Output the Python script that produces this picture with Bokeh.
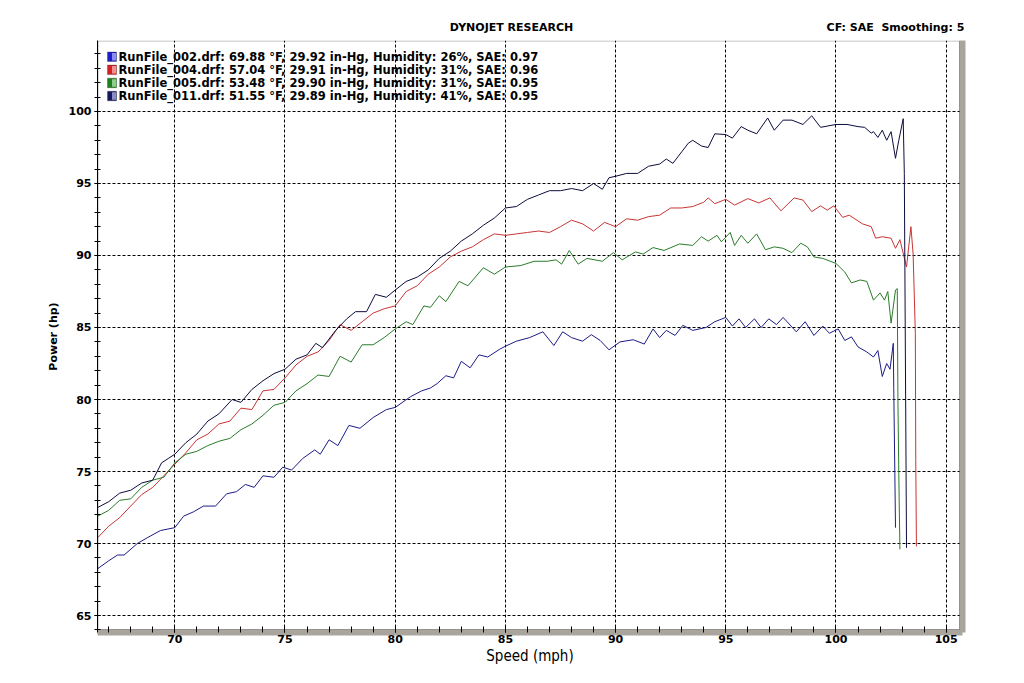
from bokeh.plotting import figure
from bokeh.models import Range1d, Label, BoxAnnotation, SingleIntervalTicker, FixedTicker, LinearAxis
from bokeh.embed import file_html
from bokeh.resources import INLINE

# ---------------- data ----------------
speed_002 = [66.5, 67.0, 67.4, 67.7, 68.3, 68.75, 69.35, 70.0, 70.4, 70.85, 71.3, 71.85, 72.35, 72.8,
             73.2, 73.6, 74.0, 74.5, 74.9, 75.3, 75.8, 76.35, 76.6, 77.0, 77.4, 77.9, 78.4, 79.0, 79.6,
             80.0, 80.7, 81.2, 81.6, 81.9, 82.3, 82.65, 83.0, 83.4, 83.8, 84.2, 84.75, 85.0, 85.5, 86.1,
             86.7, 87.2, 87.6, 88.0, 88.5, 88.9, 89.3, 89.7, 90.2, 90.8, 91.3, 91.7, 92.0, 92.3, 92.7,
             93.05, 93.5, 94.1, 94.5, 95.0, 95.3, 95.6, 95.9, 96.3, 96.6, 96.95, 97.3, 97.6, 98.2, 98.6,
             99.0, 99.4, 99.7, 100.1, 100.4, 100.7, 101.0, 101.4, 101.7, 101.9, 102.1, 102.3, 102.45,
             102.6, 102.62, 102.67, 102.7]
power_002 = [68.25, 68.8, 69.2, 69.2, 70.0, 70.4, 70.9, 71.1, 71.9, 72.2, 72.6, 72.6, 73.45, 73.6,
             74.1, 73.9, 74.7, 74.6, 75.3, 75.1, 75.9, 76.5, 76.2, 77.2, 76.8, 78.2, 78.0, 78.75, 79.3,
             79.45, 80.2, 80.6, 80.8, 81.1, 81.65, 81.5, 82.65, 82.2, 83.1, 82.95, 83.5, 83.7, 84.05, 84.3,
             84.7, 83.75, 84.7, 84.3, 84.05, 84.5, 84.1, 83.45, 84.0, 84.15, 83.85, 84.9, 84.3, 84.8, 84.45,
             85.15, 84.8, 85.0, 85.4, 85.7, 85.1, 85.6, 85.0, 85.6, 85.0, 85.6, 85.2, 85.7, 84.7, 85.4,
             84.45, 85.1, 84.6, 84.9, 84.1, 84.35, 83.65, 83.3, 82.95, 83.4, 81.6, 82.5, 82.1,
             83.9, 80.85, 74.9, 71.1]

speed_004 = [66.5, 67.0, 67.5, 68.0, 68.5, 69.0, 69.5, 70.0, 70.5, 71.0, 71.5, 72.0, 72.5, 73.0, 73.5,
             74.0, 74.5, 75.0, 75.5, 76.0, 76.5, 77.0, 77.5, 78.0, 78.5, 79.0, 79.5, 80.0, 80.5, 81.0,
             81.5, 82.0, 82.5, 83.0, 83.5, 84.0, 84.5, 85.0, 85.5, 86.0, 86.5, 87.0, 87.5, 88.0, 88.5,
             89.0, 89.5, 90.0, 90.5, 91.0, 91.5, 92.0, 92.5, 93.0, 93.5, 94.0, 94.2, 94.5, 95.0, 95.4,
             96.0, 96.5, 97.0, 97.5, 98.1, 98.5, 98.9, 99.3, 99.6, 99.9, 100.3, 100.6, 101.2, 101.6,
             101.8, 102.1, 102.5, 102.7, 102.9, 103.2, 103.4, 103.5, 103.6, 103.62, 103.65]
power_004 = [70.4, 71.2, 71.8, 72.6, 73.4, 73.9, 74.7, 75.5, 76.3, 77.2, 77.6, 78.3, 78.5, 79.4, 79.3,
             80.6, 80.7, 81.5, 82.4, 83.0, 83.3, 84.1, 85.2, 84.8, 85.4, 86.0, 86.3, 86.5, 87.5, 87.9,
             88.7, 89.2, 89.9, 90.3, 90.6, 91.1, 91.5, 91.4, 91.5, 91.6, 91.7, 91.6, 92.0, 92.45, 92.2,
             91.7, 92.3, 92.0, 92.55, 92.45, 92.7, 92.8, 93.3, 93.3, 93.4, 93.7, 94.0, 93.6, 93.9, 93.5,
             93.95, 93.65, 94.0, 93.1, 94.0, 93.85, 93.05, 93.45, 93.15, 93.45, 92.65, 92.8, 92.2, 92.0,
             91.2, 91.3, 91.2, 90.5, 91.1, 89.2, 92.0, 90.1, 84.6, 75.75, 69.8]

speed_005 = [66.5, 67.0, 67.5, 68.0, 68.5, 69.0, 69.5, 70.0, 70.5, 71.0, 71.5, 72.0, 72.5, 73.0, 73.5,
             74.0, 74.5, 75.0, 75.5, 76.0, 76.5, 77.0, 77.5, 78.0, 78.5, 79.0, 79.5, 80.0, 80.5, 80.8,
             81.3, 81.6, 82.0, 82.3, 82.9, 83.3, 84.0, 84.5, 85.0, 85.7, 86.3, 86.9, 87.3, 87.55, 87.9,
             88.3, 88.7, 89.4, 89.9, 90.3, 90.9, 91.25, 91.7, 92.2, 92.9, 93.5, 93.9, 94.2, 94.6, 94.8,
             95.2, 95.4, 95.7, 96.0, 96.4, 96.8, 97.2, 97.6, 98.0, 98.4, 98.7, 99.0, 99.4, 100.0, 100.4,
             100.7, 101.1, 101.4, 101.7, 102.0, 102.2, 102.35, 102.5, 102.7, 102.78, 102.81, 102.85, 102.9]
power_005 = [71.9, 72.3, 73.0, 73.1, 73.9, 74.4, 74.6, 75.6, 76.2, 76.4, 76.8, 77.1, 77.3, 77.9, 78.3,
             78.9, 79.6, 79.8, 80.6, 81.1, 81.7, 81.6, 83.0, 82.6, 83.8, 83.8, 84.3, 84.9, 85.4, 85.2,
             86.5, 86.4, 87.2, 86.8, 88.2, 87.9, 89.15, 88.7, 89.2, 89.3, 89.6, 89.6, 89.7, 89.4, 90.35,
             89.4, 89.8, 89.6, 90.2, 89.7, 90.25, 90.1, 90.55, 90.35, 90.8, 90.7, 91.3, 91.0, 91.4, 90.95,
             91.6, 90.7, 91.4, 90.85, 91.5, 90.4, 90.6, 90.5, 90.2, 90.85, 90.6, 89.9, 89.8, 89.45, 88.85,
             88.1, 88.3, 88.2, 86.9, 87.4, 86.9, 87.5, 85.3, 87.6, 87.7, 79.9, 74.8, 69.6]

speed_011 = [66.5, 67.0, 67.5, 68.0, 68.5, 69.0, 69.4, 69.7, 70.0, 70.5, 71.0, 71.5, 72.0, 72.6, 73.0,
             73.5, 74.0, 74.5, 75.0, 75.5, 76.0, 76.4, 76.7, 77.3, 77.8, 78.2, 78.7, 79.1, 79.6, 80.0,
             80.5, 81.0, 81.5, 82.0, 82.5, 83.0, 83.5, 84.0, 84.5, 85.0, 85.5, 86.0, 86.5, 87.0, 87.5,
             88.0, 88.5, 89.0, 89.4, 89.7, 90.0, 90.5, 91.0, 91.5, 92.0, 92.3, 92.6, 93.0, 93.3, 93.5,
             93.9, 94.2, 94.5, 95.0, 95.3, 95.7, 96.0, 96.4, 96.9, 97.2, 97.6, 98.0, 98.5, 98.9, 99.3,
             100.0, 100.5, 101.0, 101.3, 101.6, 101.7, 101.9, 102.1, 102.3, 102.5, 102.7, 102.85, 103.05,
             103.1, 103.2]
power_011 = [72.5, 72.9, 73.5, 73.7, 74.2, 74.4, 75.6, 75.9, 76.2, 77.0, 77.6, 78.5, 79.0, 80.0, 79.8,
             80.7, 81.3, 81.8, 82.1, 82.8, 83.1, 83.9, 83.6, 84.8, 85.6, 86.1, 86.1, 87.3, 87.1, 87.6,
             88.2, 88.5, 89.0, 89.8, 90.3, 91.0, 91.5, 92.1, 92.6, 93.3, 93.4, 93.9, 94.2, 94.5, 94.5,
             94.65, 94.5, 95.0, 94.6, 95.4, 95.5, 95.7, 95.7, 96.2, 96.35, 96.7, 96.4, 97.2, 97.8, 98.0,
             97.6, 97.5, 98.45, 98.4, 98.15, 98.95, 98.7, 98.45, 99.55, 98.7, 99.4, 99.4, 99.1, 99.7, 98.9,
             99.1, 99.1, 98.95, 98.9, 98.5, 98.6, 98.2, 98.7, 98.0, 98.6, 96.75, 98.0, 99.5,
             95.7, 69.7]

legend_labels = [
    "RunFile_002.drf: 69.88 \u00b0F, 29.92 in-Hg, Humidity: 26%, SAE: 0.97",
    "RunFile_004.drf: 57.04 \u00b0F, 29.91 in-Hg, Humidity: 31%, SAE: 0.96",
    "RunFile_005.drf: 53.48 \u00b0F, 29.90 in-Hg, Humidity: 31%, SAE: 0.95",
    "RunFile_011.drf: 51.55 \u00b0F, 29.89 in-Hg, Humidity: 41%, SAE: 0.95",
]
title_text = "DYNOJET RESEARCH"
info_text = "CF: SAE\u00a0\u00a0Smoothing: 5"
x_title = "Speed (mph)"
y_title = "Power (hp)"

line_colors = ["#1c1c86", "#c83434", "#2a7c2a", "#0c0c3e"]
box_dark = ["#1e1ec8", "#d42020", "#1f7f1f", "#18185e"]
box_light = ["#8c8cf4", "#f49090", "#8cd08c", "#8c8cc8"]
shadow = "#a9a59d"

# ---------------- layout ----------------
W, H = 1024, 683
FL, FR, FT, FB = 97, 962, 40, 632      # plot frame (includes the shadow band right/bottom)
BOX_R, BOX_B = 959, 629                # edges of the drawn chart box
X0, X1 = 66.493, 105.74
Y0, Y1 = 63.82, 104.93


def dx(px):
    return X0 + (px - FL) / (FR - FL) * (X1 - X0)


def dy(py):
    return Y1 - (py - FT) / (FB - FT) * (Y1 - Y0)


p = figure(width=W, height=H, output_backend="svg", toolbar_location=None,
           x_range=Range1d(X0, X1), y_range=Range1d(Y0, Y1),
           min_border_left=FL, min_border_right=W - FR,
           min_border_top=FT, min_border_bottom=H - FB)
p.background_fill_color = "white"
p.border_fill_color = "white"
p.outline_line_color = None
p.title.visible = False

p.xaxis.ticker = SingleIntervalTicker(interval=5, num_minor_ticks=5)
p.yaxis.ticker = SingleIntervalTicker(interval=5, num_minor_ticks=5)

for ax in (p.xaxis, p.yaxis):
    ax.major_tick_line_color = "black"
    ax.minor_tick_line_color = "black"
    ax.major_label_text_font = "DejaVu Sans"
    ax.major_label_text_font_style = "bold"
    ax.major_label_text_font_size = "11px"
    ax.major_label_text_color = "black"
    ax.axis_label_text_color = "black"

# left axis: black line on the box edge, ticks crossing it
p.yaxis.axis_line_color = "black"
p.yaxis.major_tick_in = 3
p.yaxis.major_tick_out = 3
p.yaxis.minor_tick_in = 3
p.yaxis.minor_tick_out = 3
p.yaxis.major_label_standoff = 3
p.yaxis.axis_label = y_title
p.yaxis.axis_label_text_font = "DejaVu Sans"
p.yaxis.axis_label_text_font_style = "bold"
p.yaxis.axis_label_text_font_size = "11px"
p.yaxis.axis_label_standoff = 6

# bottom axis: thick grey line = shadow under the box, ticks reach into the box
p.xaxis.axis_line_color = shadow
p.xaxis.axis_line_width = 6
p.xaxis.major_tick_in = 6
p.xaxis.major_tick_out = 0
p.xaxis.minor_tick_in = 6
p.xaxis.minor_tick_out = 0
p.xaxis.major_label_standoff = 2
p.xaxis.axis_label = x_title
p.xaxis.axis_label_text_font = "DejaVu Sans Condensed"
p.xaxis.axis_label_text_font_style = "normal"
p.xaxis.axis_label_text_font_size = "15px"
p.xaxis.axis_label_standoff = 1

# right axis: only a thick grey line = shadow right of the box
right_ax = LinearAxis(ticker=FixedTicker(ticks=[]), axis_line_color=shadow, axis_line_width=6,
                      major_tick_line_color=None, minor_tick_line_color=None,
                      major_label_text_font_size="1px")
p.add_layout(right_ax, "right")

# header texts above the box (placed by an unlined axis above)
head_ticks = [85.28, 102.7]
head_ax = LinearAxis(ticker=FixedTicker(ticks=head_ticks),
                     major_label_overrides={head_ticks[0]: title_text, head_ticks[1]: info_text},
                     axis_line_color=None, major_tick_line_color=None, minor_tick_line_color=None,
                     major_tick_in=0, major_tick_out=0, major_label_standoff=7,
                     major_label_text_font="DejaVu Sans", major_label_text_font_style="bold",
                     major_label_text_font_size="11px", major_label_text_color="black")
p.add_layout(head_ax, "above")

for g in (p.xgrid, p.ygrid):
    g.grid_line_color = "black"
    g.grid_line_dash = "3 2"
    g.grid_line_width = 1
    g.grid_line_alpha = 1

series = [(speed_002, power_002), (speed_004, power_004), (speed_005, power_005), (speed_011, power_011)]
for (sx, sy), c in zip(series, line_colors):
    p.line(sx, sy, line_color=c, line_width=1)

# box border (drawn over the shadow lines)
p.add_layout(BoxAnnotation(left=dx(FL + 0.5), right=dx(BOX_R), top=dy(FT + 0.5), bottom=dy(BOX_B),
                           fill_alpha=0, line_color="black", line_width=1))

# legend
for i, lab in enumerate(legend_labels):
    yc = 56.5 + 13.1 * i
    p.add_layout(BoxAnnotation(left=dx(107), right=dx(116), top=dy(yc - 5), bottom=dy(yc + 4.5),
                               fill_color=box_dark[i], fill_alpha=1, line_color="#202020", line_width=1))
    p.add_layout(BoxAnnotation(left=dx(111.5), right=dx(115.5), top=dy(yc - 4), bottom=dy(yc + 3.5),
                               fill_color=box_light[i], fill_alpha=1, line_alpha=0))
    p.add_layout(Label(x=dx(118), y=dy(yc), text=lab, text_baseline="middle", text_align="left",
                       text_font="DejaVu Sans", text_font_style="bold", text_font_size="11.5px",
                       text_color="black"))

open("out.html", "w").write(file_html(p, INLINE))
